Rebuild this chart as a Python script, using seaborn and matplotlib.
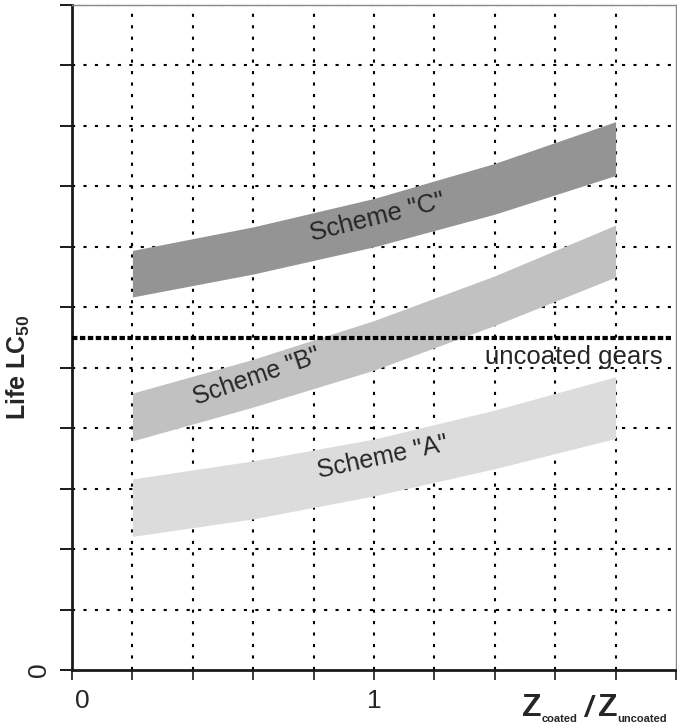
import matplotlib
matplotlib.use("Agg")
import matplotlib.pyplot as plt
import matplotlib.transforms as mtransforms
import seaborn as sns
import pandas as pd

# values
x_pts = [0.2, 0.6, 1.0, 1.4, 1.8]
c_top = [6.94, 7.33, 7.80, 8.38, 9.07]
c_bot = [6.17, 6.55, 7.00, 7.54, 8.18]
b_top = [4.58, 5.14, 5.78, 6.52, 7.36]
b_bot = [3.79, 4.35, 4.96, 5.70, 6.50]
a_top = [3.16, 3.46, 3.82, 4.30, 4.85]
a_bot = [2.21, 2.50, 2.88, 3.33, 3.83]
uncoated_x = [0.0, 1.985]
uncoated_y = [5.5, 5.5]

x_ticks = [0.0, 0.2, 0.4, 0.6, 0.8, 1.0, 1.2, 1.4, 1.6, 1.8, 2.0]
x_ticklabels = ["0", "", "", "", "", "1", "", "", "", "", ""]
y_ticks = list(range(0, 12))
y_ticklabels = ["0"] + [""] * 11

sns.set_style("white")
plt.rcParams["font.family"] = ["Liberation Sans", "DejaVu Sans"]
plt.rcParams["mathtext.fontset"] = "custom"
plt.rcParams["mathtext.rm"] = "Liberation Sans"
plt.rcParams["mathtext.bf"] = "Liberation Sans:bold"

fig = plt.figure(figsize=(6.77, 7.25), dpi=100)
ax = fig.add_axes([72 / 677, 55 / 725, 604 / 677, 665 / 725])

ax.set_xlim(0, 2.0)
ax.set_ylim(0, 11)

# dotted grid
grid_kw = dict(color="black", linewidth=1.5, linestyle=(0, (1.5, 4.0)), zorder=1)
for gx in x_ticks[1:-1]:
    ax.axvline(gx, **grid_kw)
for gy in y_ticks[1:]:
    ax.axhline(gy, **grid_kw)

bands = pd.DataFrame({"x": x_pts, "c_top": c_top, "c_bot": c_bot,
                      "b_top": b_top, "b_bot": b_bot,
                      "a_top": a_top, "a_bot": a_bot})
ax.fill_between(bands["x"], bands["c_bot"], bands["c_top"], color="#949494", lw=0, zorder=2)
ax.fill_between(bands["x"], bands["b_bot"], bands["b_top"], color="#c1c1c1", lw=0, zorder=2)
ax.fill_between(bands["x"], bands["a_bot"], bands["a_top"], color="#dcdcdc", lw=0, zorder=2)

ref = pd.DataFrame({"x": uncoated_x, "y": uncoated_y})
sns.lineplot(data=ref, x="x", y="y", ax=ax, color="black", linewidth=3.0,
             zorder=3, estimator=None)
ax.lines[-1].set_linestyle((0, (1.3, 0.6)))
ax.text(1.955, 5.18, "uncoated gears", fontsize=18.5, ha="right", va="center", zorder=4)

ax.text(1.01, 7.48, 'Scheme "C"', fontsize=18.5, rotation=14, ha="center", va="center", zorder=4)
ax.text(0.61, 4.85, 'Scheme "B"', fontsize=18, rotation=19, ha="center", va="center", zorder=4)
ax.text(1.03, 3.52, 'Scheme "A"', fontsize=18, rotation=12, ha="center", va="center", zorder=4)

# spines
for side in ["left", "bottom"]:
    ax.spines[side].set_color("#1a1a1a")
    ax.spines[side].set_linewidth(2.0)
for side in ["top", "right"]:
    ax.spines[side].set_color("#888888")
    ax.spines[side].set_linewidth(1.0)

ax.set_xticks(x_ticks)
ax.set_xticklabels(x_ticklabels, fontsize=19)
ax.set_yticks(y_ticks)
ax.set_yticklabels(y_ticklabels, fontsize=19, rotation=90, va="center")
ax.tick_params(axis="x", bottom=True, direction="out", length=7.5, width=1.2,
               color="#1a1a1a", pad=6)
ax.tick_params(axis="y", left=True, direction="out", length=9, width=1.4,
               color="#1a1a1a", pad=6)
shift = mtransforms.ScaledTranslation(10 / 100, 0, fig.dpi_scale_trans)
lab0 = ax.get_xticklabels()[0]
lab0.set_transform(lab0.get_transform() + shift)

# x label built from pieces so the subscripts stay small
ax.set_xlabel("")
z1 = ax.text(0.745, -0.034, "Z", transform=ax.transAxes, fontsize=23,
             fontweight="bold", ha="left", va="top")
s1 = ax.annotate("coated", xy=(1, 0), xycoords=z1, xytext=(0, -1),
                 textcoords="offset points", fontsize=8, fontweight="bold",
                 ha="left", va="bottom")
sl = ax.annotate("/", xy=(1, 0), xycoords=(s1, z1), xytext=(5, 0),
                 textcoords="offset points", fontsize=21, fontweight="bold",
                 fontstyle="italic", ha="left", va="bottom")
z2 = ax.annotate("Z", xy=(1, 0), xycoords=(sl, z1), xytext=(4, 0),
                 textcoords="offset points", fontsize=23, fontweight="bold",
                 ha="left", va="bottom")
ax.annotate("uncoated", xy=(1, 0), xycoords=z2, xytext=(0, -1),
            textcoords="offset points", fontsize=8, fontweight="bold",
            ha="left", va="bottom")

ax.set_ylabel(r"Life LC$_{\mathbf{50}}$", fontsize=18, fontweight="bold")
ax.yaxis.set_label_coords(-0.066, 0.455)

fig.savefig("out.png", dpi=100)
